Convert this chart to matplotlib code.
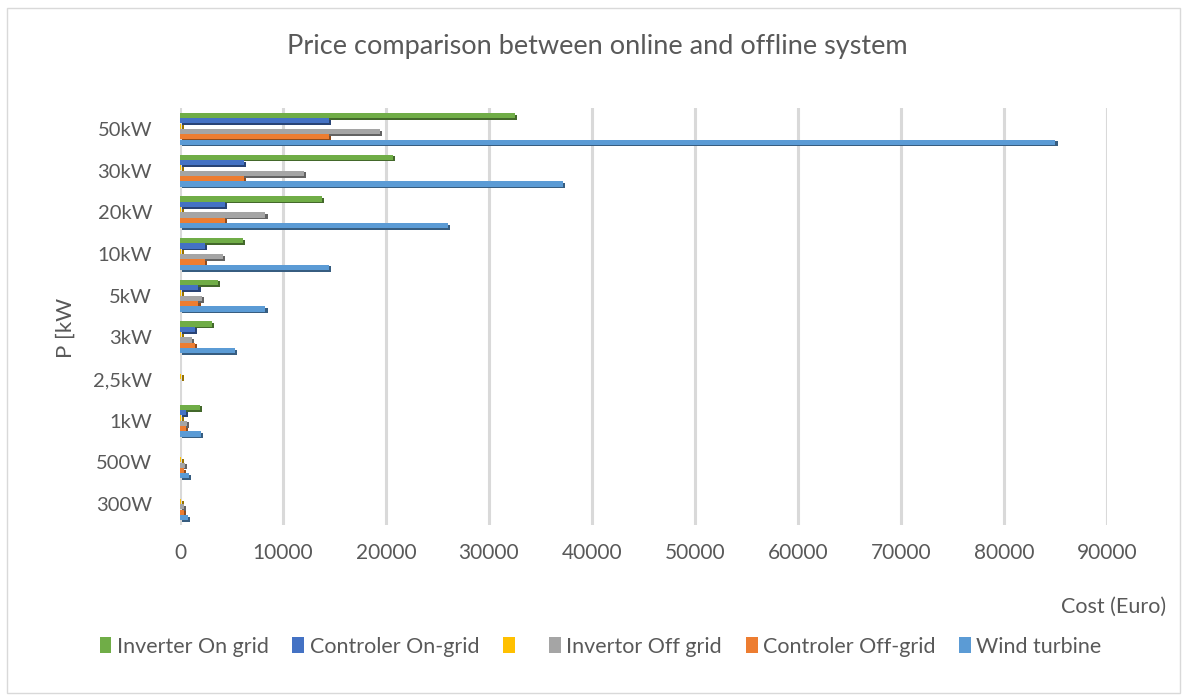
import numpy as np
import matplotlib.pyplot as plt
import matplotlib.patheffects as pe
from matplotlib.patches import Rectangle, Patch
from matplotlib.colors import to_rgb

categories = ["300W", "500W", "1kW", "2,5kW", "3kW", "5kW", "10kW", "20kW", "30kW", "50kW"]

inverter_on = [0, 0, 1900, 0, 3100, 3700, 6100, 13800, 20700, 32500]
controler_on = [0, 0, 600, 0, 1500, 1800, 2400, 4400, 6200, 14500]
yellow_series = [150, 150, 150, 150, 150, 150, 150, 150, 150, 150]
invertor_off = [400, 450, 700, 0, 1200, 2100, 4200, 8300, 12000, 19400]
controler_off = [400, 400, 600, 0, 1500, 1800, 2400, 4400, 6200, 14500]
wind_turbine = [750, 850, 2000, 0, 5300, 8300, 14500, 26000, 37200, 85000]

series = [
    ("Inverter On grid", inverter_on, "#70AD47"),
    ("Controler On-grid", controler_on, "#4472C4"),
    (" ", yellow_series, "#FFC000"),
    ("Invertor Off grid", invertor_off, "#A5A5A5"),
    ("Controler Off-grid", controler_off, "#ED7D31"),
    ("Wind turbine", wind_turbine, "#5B9BD5"),
]

plt.rcParams['font.family'] = ['Lato', 'DejaVu Sans']
txt = "#595959"

fig = plt.figure(figsize=(11.87, 7.0), dpi=100)
fig.patches.append(Rectangle((0.006, 0.01), 0.988, 0.978, transform=fig.transFigure,
                             fill=False, edgecolor="#d9d9d9", linewidth=1))
ax = fig.add_axes([0.1516, 0.25, 0.781, 0.5957])

y = np.arange(len(categories))
step = 0.128
h = 0.125
for i, (name, vals, col) in enumerate(series):
    dark = tuple(c * 0.6 for c in to_rgb(col))
    offs = (2.5 - i) * step
    bars = ax.barh(y + offs, vals, height=h, color=col, zorder=3)
    for b in bars:
        b.set_path_effects([pe.SimplePatchShadow(offset=(1.5, -1.2), shadow_rgbFace=dark, alpha=1.0),
                            pe.Normal()])

ax.set_xlim(0, 90000)
ax.set_ylim(-0.5, 9.5)
ax.set_xticks(np.arange(0, 90001, 10000))
ax.set_yticks(y)
ax.set_yticklabels(categories)
ax.grid(axis="x", color="#d9d9d9", linewidth=2.2, zorder=0)
ax.tick_params(axis="both", length=0, colors=txt, labelsize=15)
ax.tick_params(axis="y", labelsize=14.5, pad=20)
ax.tick_params(axis="x", pad=13)
for s in ax.spines.values():
    s.set_visible(False)

fig.text(0.503, 0.933, "Price comparison between online and offline system",
         ha="center", va="center", fontsize=19.5, color=txt)
fig.text(0.055, 0.532, "P [kW", rotation=90, ha="center", va="center", fontsize=16, color=txt)
fig.text(0.938, 0.133, "Cost (Euro)", ha="center", va="center", fontsize=15.5, color=txt)

handles = [Patch(facecolor=col, edgecolor="none") for _, _, col in series]
labels = [name for name, _, _ in series]
leg = fig.legend(handles, labels, loc="center", bbox_to_anchor=(0.506, 0.076), ncol=6,
                 frameon=False, fontsize=15.5, handlelength=0.55, handleheight=0.75,
                 handletextpad=0.25, columnspacing=1.1)
for t in leg.get_texts():
    t.set_color(txt)

fig.savefig("out.png", dpi=100)
